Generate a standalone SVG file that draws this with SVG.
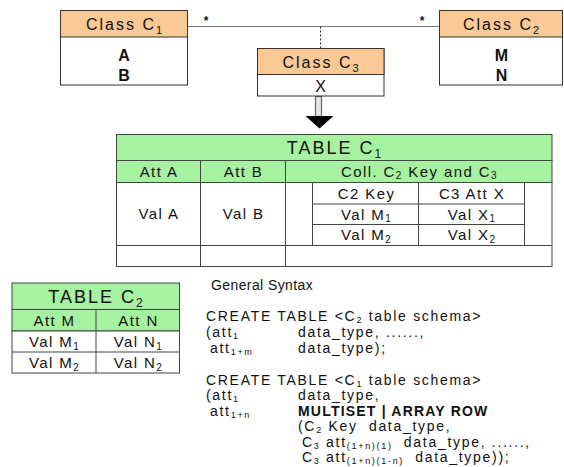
<svg xmlns="http://www.w3.org/2000/svg" width="564" height="467" viewBox="0 0 564 467">
<defs>
<style>
text{font-family:"Liberation Sans",Arial,sans-serif;fill:#111;}
.cls{font-size:16px;letter-spacing:2px;text-anchor:middle;}
.attr{font-size:16px;letter-spacing:1px;text-anchor:middle;font-weight:bold;}
.ttl{font-size:18px;letter-spacing:2px;text-anchor:middle;}
.cell{font-size:15px;letter-spacing:1.4px;text-anchor:middle;}
.syn{font-size:14px;letter-spacing:1.7px;white-space:pre;}
.hdr{fill:#FAC995;stroke:#333;stroke-width:1;}
.body{fill:#fff;stroke:#333;stroke-width:1;}
.grn{fill:#A6F2A0;stroke:#444;stroke-width:1;}
.wht{fill:#fff;stroke:#444;stroke-width:1;}
.ln{stroke:#444;stroke-width:1;fill:none;}
</style>
</defs>
<rect width="564" height="467" fill="#fff"/>

<g id="connectors">
<line x1="188" y1="26.5" x2="439" y2="26.5" stroke="#777" stroke-width="1"/>
<line x1="320.5" y1="26.5" x2="320.5" y2="48" stroke="#222" stroke-width="1" stroke-dasharray="2,2"/>
<text x="206" y="25" font-size="12" font-weight="bold" text-anchor="middle">*</text>
<text x="422" y="25" font-size="12" font-weight="bold" text-anchor="middle">*</text>
<rect x="315.5" y="96.5" width="6" height="20" fill="#e6e6e6" stroke="#666" stroke-width="1.2"/>
<polygon points="305.5,116 333.5,116 319.5,128.5" fill="#000"/>
</g>

<g id="class-c1">
<rect class="body" x="60.5" y="10.5" width="127" height="74.5"/>
<rect class="hdr" x="60.5" y="10.5" width="127" height="26.5"/>
<text class="cls" x="125" y="30">Class C<tspan font-size="11" dy="4">1</tspan></text>
<text class="attr" x="124.5" y="61">A</text>
<text class="attr" x="124.5" y="81">B</text>
</g>

<g id="class-c3">
<rect class="body" x="257.5" y="48.5" width="126.5" height="47.5"/>
<rect class="hdr" x="257.5" y="48.5" width="126.5" height="26"/>
<text class="cls" x="321.5" y="67.5">Class C<tspan font-size="11" dy="4">3</tspan></text>
<text class="attr" x="321" y="91.5" style="font-weight:normal">X</text>
</g>

<g id="class-c2">
<rect class="body" x="439.5" y="10.5" width="123" height="74.5"/>
<rect class="hdr" x="439.5" y="10.5" width="123" height="26.5"/>
<text class="cls" x="502" y="30">Class C<tspan font-size="11" dy="4">2</tspan></text>
<text class="attr" x="502" y="61">M</text>
<text class="attr" x="502" y="81">N</text>
</g>

<g id="table-c1">
<rect class="grn" x="116.5" y="134.5" width="435.5" height="26"/>
<rect class="grn" x="116.5" y="160.5" width="435.5" height="22"/>
<rect class="wht" x="116.5" y="182.5" width="435.5" height="84"/>
<line class="ln" x1="200.5" y1="160.5" x2="200.5" y2="266.5"/>
<line class="ln" x1="285.5" y1="160.5" x2="285.5" y2="266.5"/>
<line class="ln" x1="116.5" y1="245.5" x2="552" y2="245.5"/>
<line class="ln" x1="312.5" y1="182.5" x2="312.5" y2="245.5"/>
<line class="ln" x1="418.5" y1="182.5" x2="418.5" y2="245.5"/>
<line class="ln" x1="524.5" y1="182.5" x2="524.5" y2="245.5"/>
<line class="ln" x1="312.5" y1="204" x2="524.5" y2="204"/>
<line class="ln" x1="312.5" y1="224.5" x2="524.5" y2="224.5"/>
<text class="ttl" x="335" y="154">TABLE C<tspan font-size="12" dy="4">1</tspan></text>
<text class="cell" x="159" y="176.5">Att A</text>
<text class="cell" x="243.5" y="176.5">Att B</text>
<text class="cell" x="419.5" y="176.5">Coll. C<tspan font-size="10" dy="2.5">2</tspan><tspan dy="-2.5"> Key and C</tspan><tspan font-size="10" dy="2.5">3</tspan></text>
<text class="cell" x="159" y="219">Val A</text>
<text class="cell" x="243.5" y="219">Val B</text>
<text class="cell" x="366.5" y="198.5">C2 Key</text>
<text class="cell" x="472" y="198.5">C3 Att X</text>
<text class="cell" x="366.5" y="219.5">Val M<tspan font-size="10" dy="2.5">1</tspan></text>
<text class="cell" x="472" y="219.5">Val X<tspan font-size="10" dy="2.5">1</tspan></text>
<text class="cell" x="366.5" y="240">Val M<tspan font-size="10" dy="2.5">2</tspan></text>
<text class="cell" x="472" y="240">Val X<tspan font-size="10" dy="2.5">2</tspan></text>
</g>

<g id="table-c2">
<rect class="grn" x="12" y="283" width="167.5" height="26.5"/>
<rect class="grn" x="12" y="309.5" width="167.5" height="21.5"/>
<rect class="wht" x="12" y="331" width="167.5" height="42"/>
<line class="ln" x1="96" y1="309.5" x2="96" y2="373"/>
<line class="ln" x1="12" y1="352" x2="179.5" y2="352"/>
<text class="ttl" x="96.5" y="302.5">TABLE C<tspan font-size="12" dy="4">2</tspan></text>
<text class="cell" x="54.5" y="325.5">Att M</text>
<text class="cell" x="138.5" y="325.5">Att N</text>
<text class="cell" x="54.5" y="347">Val M<tspan font-size="10" dy="2.5">1</tspan></text>
<text class="cell" x="138.5" y="347">Val N<tspan font-size="10" dy="2.5">1</tspan></text>
<text class="cell" x="54.5" y="368">Val M<tspan font-size="10" dy="2.5">2</tspan></text>
<text class="cell" x="138.5" y="368">Val N<tspan font-size="10" dy="2.5">2</tspan></text>
</g>

<g id="syntax">
<text class="syn" x="211" y="290" style="letter-spacing:0.4px">General Syntax</text>
<text class="syn" x="206" y="321">CREATE TABLE &lt;C<tspan font-size="9" dy="2">2</tspan><tspan dy="-2"> table schema&gt;</tspan></text>
<text class="syn" x="206" y="337">(att<tspan font-size="9" dy="2">1</tspan></text>
<text class="syn" x="298" y="337">data_type, ......,</text>
<text class="syn" x="210" y="352.5">att<tspan font-size="9" dy="2">1+m</tspan></text>
<text class="syn" x="298" y="352.5">data_type);</text>
<text class="syn" x="206" y="384.5">CREATE TABLE &lt;C<tspan font-size="9" dy="2">1</tspan><tspan dy="-2"> table schema&gt;</tspan></text>
<text class="syn" x="206" y="400">(att<tspan font-size="9" dy="2">1</tspan></text>
<text class="syn" x="298" y="400">data_type,</text>
<text class="syn" x="210" y="415.5">att<tspan font-size="9" dy="2">1+n</tspan></text>
<text class="syn" x="298" y="415.5" font-weight="bold" style="letter-spacing:1.2px">MULTISET | ARRAY ROW</text>
<text class="syn" x="298" y="431">(C<tspan font-size="9" dy="2">2</tspan><tspan dy="-2"> Key  data_type,</tspan></text>
<text class="syn" x="302" y="446.5">C<tspan font-size="9" dy="2">3</tspan><tspan dy="-2"> att</tspan><tspan font-size="9" dy="2">(1+n)(1)</tspan><tspan dy="-2">  data_type, ......,</tspan></text>
<text class="syn" x="302" y="461.5">C<tspan font-size="9" dy="2">3</tspan><tspan dy="-2"> att</tspan><tspan font-size="9" dy="2">(1+n)(1-n)</tspan><tspan dy="-2">  data_type));</tspan></text>
</g>
</svg>
